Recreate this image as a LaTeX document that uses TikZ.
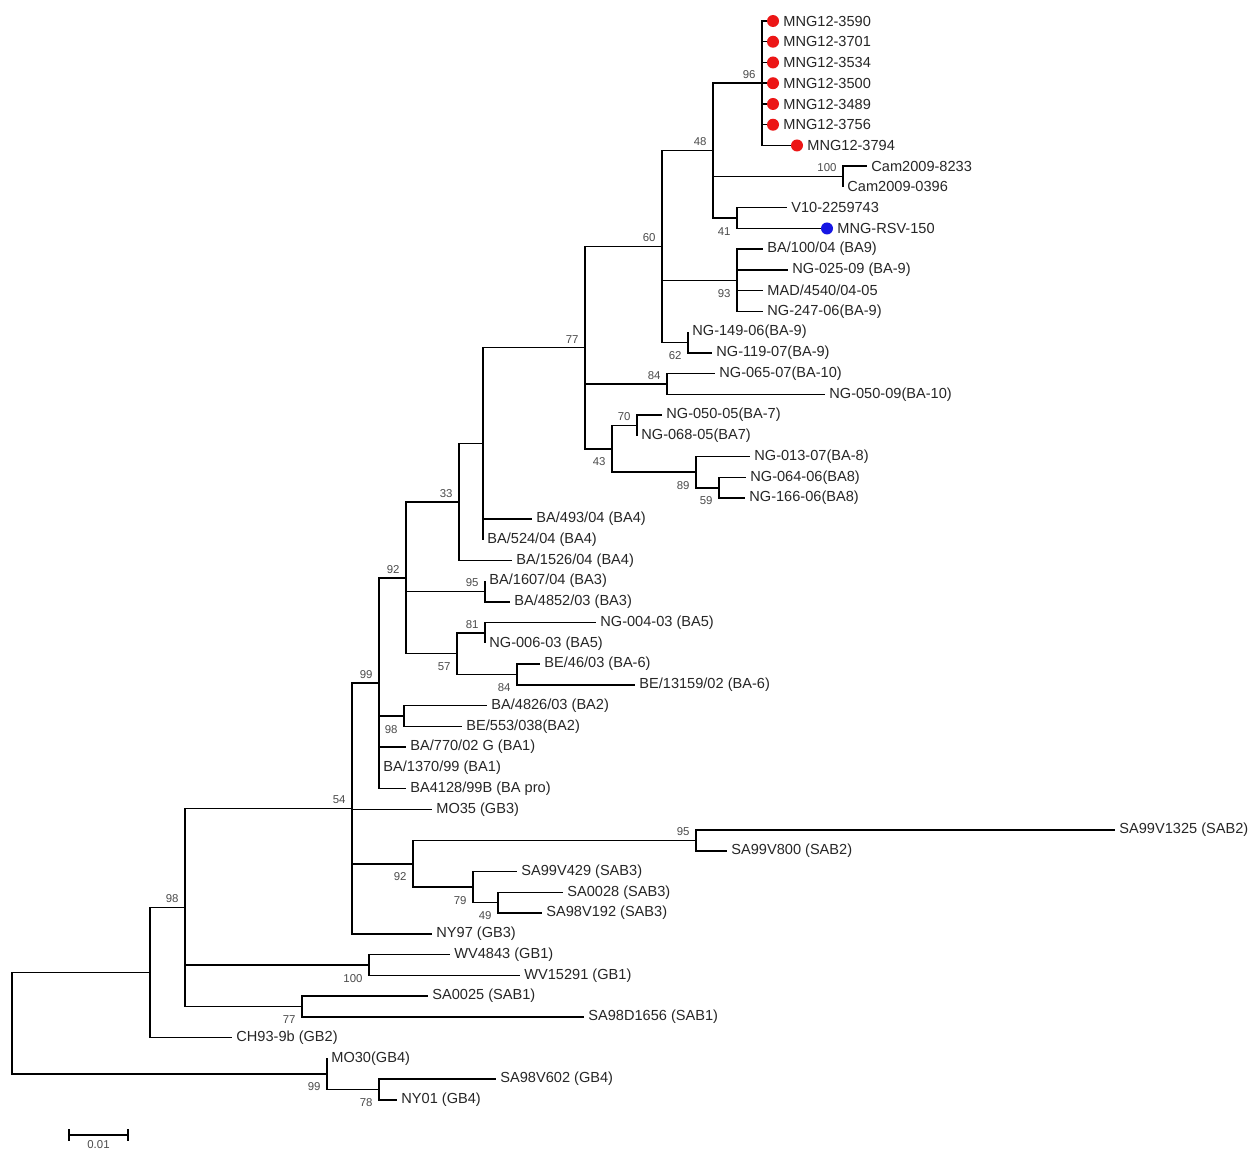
\documentclass[tikz,border=0pt]{standalone}
\usepackage{fontspec}
\setmainfont{Liberation Sans}
\usepackage{xcolor}
\usepackage{tikz}
\usetikzlibrary{positioning}
\newcommand\leaffont{\fontsize{8.3}{10}\selectfont}
\newcommand\bootfont{\fontsize{6.5}{7}\selectfont}
\definecolor{mngred}{RGB}{236,22,22}
\definecolor{mngblue}{RGB}{22,22,228}
\tikzset{
  branch/.style={line width=0.85pt},
  taxon/.style={anchor=west, inner sep=2.5pt, outer sep=0pt, font=\leaffont, text=black!85},
  boot/.style={font=\bootfont, text=black!70, inner sep=1pt},
  bootup/.style={boot, anchor=south east, xshift=-2.5pt, yshift=1.5pt},
  bootdn/.style={boot, anchor=north east, xshift=-2.5pt, yshift=-4pt},
  dotmark/.style={circle, fill=#1, inner sep=0pt, outer sep=0pt, minimum size=0.24cm},
}

\begin{document}
\begin{tikzpicture}[x=0.02cm, y=-0.415cm]

\path[use as bounding box, fill=white] (0,-1.012) rectangle (1252,54.458);

% ── internal nodes (x in px, y in leaf rows) ─────────────────────────────────
\coordinate (nmng)    at (762,3);
\coordinate (ncam)    at (843,7.5);
\coordinate (nrsv)    at (737,9.5);
\coordinate (nba9up)  at (713,6.25);
\coordinate (nba9)    at (737,12.5);
\coordinate (nng149)  at (688,15.5);
\coordinate (nba9all) at (662,10.875);
\coordinate (nba10)   at (667,17.5);
\coordinate (nba7)    at (637,19.5);
\coordinate (nba8b)   at (719,22.5);
\coordinate (nba8)    at (696,21.75);
\coordinate (nba78)   at (612,20.625);
\coordinate (nba710)  at (585,15.75);
\coordinate (nba4)    at (483,20.375);
\coordinate (nba4all) at (459,23.1875);
\coordinate (nba3)    at (485,27.5);
\coordinate (nba5)    at (485,29.5);
\coordinate (nba6)    at (517,31.5);
\coordinate (nba56)   at (457,30.5);
\coordinate (nba36)   at (406,26.844);
\coordinate (nba2)    at (404,33.5);
\coordinate (nba)     at (379,31.922);
\coordinate (nsab2)   at (696,39.5);
\coordinate (nsab3b)  at (498,42.5);
\coordinate (nsab3)   at (473,41.75);
\coordinate (nsab23)  at (413,40.625);
\coordinate (ngb3)    at (352,37.961);
\coordinate (ngb1)    at (369,45.5);
\coordinate (nsab1)   at (302,47.5);
\coordinate (nga)     at (185,42.730);
\coordinate (ngab)    at (150,45.865);
\coordinate (ngb4)    at (327,50.75);
\coordinate (ngb4b)   at (379,51.5);
\coordinate (nroot)   at (12,48.308);

% ── MNG12 cluster (red marks) ────────────────────────────────────────────────
\foreach \r/\id in {0/3590,1/3701,2/3534,3/3500,4/3489,5/3756}{
  \node[dotmark=mngred] (d\id) at (773,\r) {};
  \node[taxon, right=0pt of d\id] (m\id) {MNG12-\id};
}
\node[dotmark=mngred] (d3794) at (797,6) {};
\node[taxon, right=0pt of d3794] (m3794) {MNG12-3794};

% ── BA taxa ──────────────────────────────────────────────────────────────────
\node[taxon] (cam8233) at (867,7)  {Cam2009-8233};
\node[taxon] (cam0396) at (843,8)  {Cam2009-0396};
\node[taxon] (v10)     at (787,9)  {V10-2259743};
\node[dotmark=mngblue] (d150) at (827,10) {};
\node[taxon, right=0pt of d150] (m150) {MNG-RSV-150};
\node[taxon] (ba100)   at (763,11) {BA/100/04 (BA9)};
\node[taxon] (ng025)   at (788,12) {NG-025-09 (BA-9)};
\node[taxon] (mad4540) at (763,13) {MAD/4540/04-05};
\node[taxon] (ng247)   at (763,14) {NG-247-06(BA-9)};
\node[taxon] (ng149)   at (688,15) {NG-149-06(BA-9)};
\node[taxon] (ng119)   at (712,16) {NG-119-07(BA-9)};
\node[taxon] (ng065)   at (715,17) {NG-065-07(BA-10)};
\node[taxon] (ng050b)  at (825,18) {NG-050-09(BA-10)};
\node[taxon] (ng050a)  at (662,19) {NG-050-05(BA-7)};
\node[taxon] (ng068)   at (637,20) {NG-068-05(BA7)};
\node[taxon] (ng013)   at (750,21) {NG-013-07(BA-8)};
\node[taxon] (ng064)   at (746,22) {NG-064-06(BA8)};
\node[taxon] (ng166)   at (745,23) {NG-166-06(BA8)};
\node[taxon] (ba493)   at (532,24) {BA/493/04 (BA4)};
\node[taxon] (ba524)   at (483,25) {BA/524/04 (BA4)};
\node[taxon] (ba1526)  at (512,26) {BA/1526/04 (BA4)};
\node[taxon] (ba1607)  at (485,27) {BA/1607/04 (BA3)};
\node[taxon] (ba4852)  at (510,28) {BA/4852/03 (BA3)};
\node[taxon] (ng004)   at (596,29) {NG-004-03 (BA5)};
\node[taxon] (ng006)   at (485,30) {NG-006-03 (BA5)};
\node[taxon] (be46)    at (540,31) {BE/46/03 (BA-6)};
\node[taxon] (be13159) at (635,32) {BE/13159/02 (BA-6)};
\node[taxon] (ba4826)  at (487,33) {BA/4826/03 (BA2)};
\node[taxon] (be553)   at (462,34) {BE/553/038(BA2)};
\node[taxon] (ba770)   at (406,35) {BA/770/02 G (BA1)};
\node[taxon] (ba1370)  at (379,36) {BA/1370/99 (BA1)};
\node[taxon] (ba4128)  at (406,37) {BA4128/99B (BA pro)};

% ── GB / SAB taxa ────────────────────────────────────────────────────────────
\node[taxon] (mo35)    at (432,38)  {MO35 (GB3)};
\node[taxon] (sa1325)  at (1115,39) {SA99V1325 (SAB2)};
\node[taxon] (sa800)   at (727,40)  {SA99V800 (SAB2)};
\node[taxon] (sa429)   at (517,41)  {SA99V429 (SAB3)};
\node[taxon] (sa0028)  at (563,42)  {SA0028 (SAB3)};
\node[taxon] (sa192)   at (542,43)  {SA98V192 (SAB3)};
\node[taxon] (ny97)    at (432,44)  {NY97 (GB3)};
\node[taxon] (wv4843)  at (450,45)  {WV4843 (GB1)};
\node[taxon] (wv15291) at (520,46)  {WV15291 (GB1)};
\node[taxon] (sa0025)  at (428,47)  {SA0025 (SAB1)};
\node[taxon] (sa1656)  at (584,48)  {SA98D1656 (SAB1)};
\node[taxon] (ch93)    at (232,49)  {CH93-9b (GB2)};
\node[taxon] (mo30)    at (327,50)  {MO30(GB4)};
\node[taxon] (sa602)   at (496,51)  {SA98V602 (GB4)};
\node[taxon] (ny01)    at (397,52)  {NY01 (GB4)};

% ── branches: node to node ───────────────────────────────────────────────────
\foreach \c in {ngab,ngb4}            \draw[branch] (nroot) |- (\c);
\draw[branch] (ngab) |- (nga);
\draw[branch] (ngab) |- (ch93.west);
\foreach \c in {ngb3,ngb1,nsab1}      \draw[branch] (nga) |- (\c);
\foreach \c in {nba,nsab23}           \draw[branch] (ngb3) |- (\c);
\foreach \c in {mo35,ny97}            \draw[branch] (ngb3) |- (\c.west);
\foreach \c in {nba36,nba2}           \draw[branch] (nba) |- (\c);
\foreach \c in {ba770,ba1370,ba4128}  \draw[branch] (nba) |- (\c.west);
\foreach \c in {nba4all,nba3,nba56}   \draw[branch] (nba36) |- (\c);
\draw[branch] (nba4all) |- (nba4);
\draw[branch] (nba4all) |- (ba1526.west);
\draw[branch] (nba4) |- (nba710);
\foreach \c in {ba493,ba524}          \draw[branch] (nba4) |- (\c.west);
\foreach \c in {nba9all,nba10,nba78}  \draw[branch] (nba710) |- (\c);
\foreach \c in {nba9up,nba9,nng149}   \draw[branch] (nba9all) |- (\c);
\foreach \c in {nmng,ncam,nrsv}       \draw[branch] (nba9up) |- (\c);
\foreach \c in {d3590,d3701,d3534,d3500,d3489,d3756,d3794}
                                      \draw[branch] (nmng) |- (\c.west);
\foreach \c in {cam8233,cam0396}      \draw[branch] (ncam) |- (\c.west);
\foreach \c in {v10,d150}             \draw[branch] (nrsv) |- (\c.west);
\foreach \c in {ba100,ng025,mad4540,ng247}
                                      \draw[branch] (nba9) |- (\c.west);
\foreach \c in {ng149,ng119}          \draw[branch] (nng149) |- (\c.west);
\foreach \c in {ng065,ng050b}         \draw[branch] (nba10) |- (\c.west);
\foreach \c in {nba7,nba8}            \draw[branch] (nba78) |- (\c);
\foreach \c in {ng050a,ng068}         \draw[branch] (nba7) |- (\c.west);
\draw[branch] (nba8) |- (ng013.west);
\draw[branch] (nba8) |- (nba8b);
\foreach \c in {ng064,ng166}          \draw[branch] (nba8b) |- (\c.west);
\foreach \c in {ba1607,ba4852}        \draw[branch] (nba3) |- (\c.west);
\foreach \c in {nba5,nba6}            \draw[branch] (nba56) |- (\c);
\foreach \c in {ng004,ng006}          \draw[branch] (nba5) |- (\c.west);
\foreach \c in {be46,be13159}         \draw[branch] (nba6) |- (\c.west);
\foreach \c in {ba4826,be553}         \draw[branch] (nba2) |- (\c.west);
\foreach \c in {nsab2,nsab3}          \draw[branch] (nsab23) |- (\c);
\foreach \c in {sa1325,sa800}         \draw[branch] (nsab2) |- (\c.west);
\draw[branch] (nsab3) |- (sa429.west);
\draw[branch] (nsab3) |- (nsab3b);
\foreach \c in {sa0028,sa192}         \draw[branch] (nsab3b) |- (\c.west);
\foreach \c in {wv4843,wv15291}       \draw[branch] (ngb1) |- (\c.west);
\foreach \c in {sa0025,sa1656}        \draw[branch] (nsab1) |- (\c.west);
\draw[branch] (ngb4) |- (mo30.west);
\draw[branch] (ngb4) |- (ngb4b);
\foreach \c in {sa602,ny01}           \draw[branch] (ngb4b) |- (\c.west);

% ── bootstrap values ─────────────────────────────────────────────────────────
\foreach \n/\v in {nmng/96,ncam/100,nba9up/48,nba9all/60,nba10/84,nba7/70,
                   nba710/77,nba4all/33,nba3/95,nba5/81,nba36/92,nba/99,
                   nsab2/95,ngb3/54,nga/98}
  \node[bootup] (b\n) at (\n) {\v};
\foreach \n/\v in {nrsv/41,nba9/93,nng149/62,nba8/89,nba8b/59,nba78/43,
                   nba6/84,nba56/57,nba2/98,nsab23/92,nsab3/79,nsab3b/49,
                   ngb1/100,nsab1/77,ngb4/99,ngb4b/78}
  \node[bootdn] (b\n) at (\n) {\v};

% ── scale bar ────────────────────────────────────────────────────────────────
\coordinate (sbl) at (69,53.7);
\coordinate (sbr) at (128,53.7);
\draw[branch] (sbl) -- (sbr);
\draw[branch] ([yshift=3.4pt]sbl) -- ([yshift=-3.4pt]sbl);
\draw[branch] ([yshift=3.4pt]sbr) -- ([yshift=-3.4pt]sbr);
\node[boot, anchor=north, inner sep=0pt] (sbtext) at (98.5,53.96) {0.01};

\end{tikzpicture}
\end{document}
